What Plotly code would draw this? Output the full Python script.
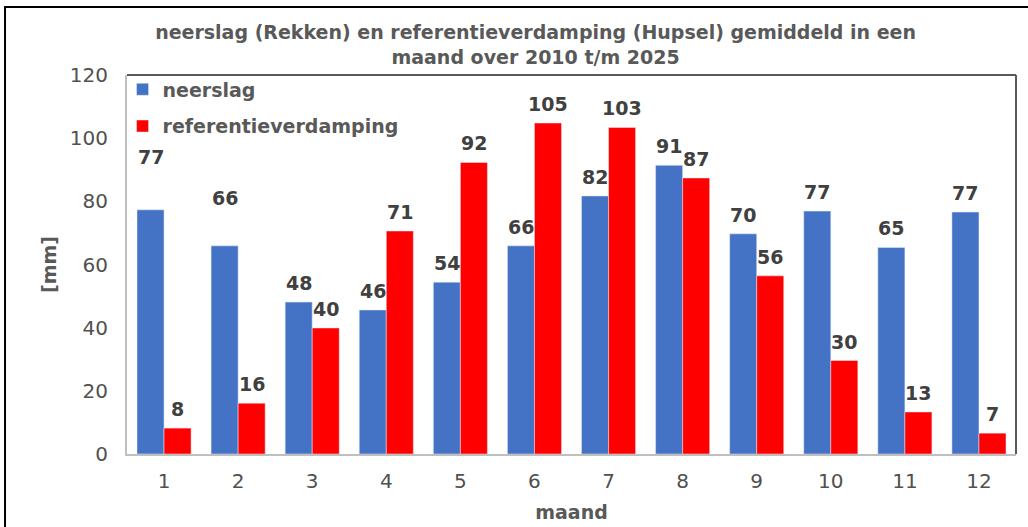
import plotly.graph_objects as go

months = list(range(1, 13))
neerslag = [77.3, 65.9, 48.1, 45.6, 54.4, 65.9, 81.7, 91.4, 69.7, 76.9, 65.4, 76.6]
verdamping = [8.2, 16.1, 39.9, 70.6, 92.3, 104.8, 103.4, 87.4, 56.4, 29.6, 13.3, 6.6]
# extra vertical offset (px) for labels that were moved up in the original
neerslag_label_lift = [34, 29, 0, 0, 0, 0, 0, 0, 0, 0, 0, 0]
verdamping_label_lift = [0] * 12

title_text = "neerslag (Rekken) en referentieverdamping (Hupsel) gemiddeld in een<br>maand over 2010 t/m 2025"

FONT = "DejaVu Sans"
GREY = "#595959"
DARK = "#404040"

fig = go.Figure()
fig.add_trace(go.Bar(x=months, y=neerslag, name="neerslag", marker_color="#4472C4",
                     legendgroup="a"))
fig.add_trace(go.Bar(x=months, y=verdamping, name="referentieverdamping", marker_color="#FF0000",
                     legendgroup="b"))

annotations = []
for series, lift, shift in ((neerslag, neerslag_label_lift, -13.5), (verdamping, verdamping_label_lift, 13.5)):
    for m, v, l in zip(months, series, lift):
        annotations.append(dict(x=m, y=v, xref="x", yref="y", text=f"{v:.0f}", showarrow=False,
                                xshift=shift, yshift=6 + l, yanchor="bottom",
                                font=dict(family=FONT, size=19, color=DARK, weight="bold")))

fig.update_layout(
    width=1028, height=527,
    margin=dict(l=127, r=12, t=75, b=73, autoexpand=False),
    paper_bgcolor="white", plot_bgcolor="white",
    barmode="group", bargap=0.27, bargroupgap=0,
    title=dict(text=title_text, x=0.521, xref="container", xanchor="center",
               y=0.926, yref="container", yanchor="top",
               font=dict(family=FONT, size=19, color=GREY, weight="bold")),
    legend=dict(x=-0.005, y=1.012, xanchor="left", yanchor="top", bgcolor="rgba(0,0,0,0)",
                font=dict(family=FONT, size=19, color=GREY, weight="bold"),
                tracegroupgap=9, itemwidth=30),
    xaxis=dict(range=[0.5, 12.5], tickmode="array", tickvals=months, ticktext=[str(m) for m in months],
               showgrid=False, showline=True, linecolor="#BFBFBF", linewidth=2, zeroline=False,
               ticks="", ticklabelstandoff=8, automargin=False,
               tickfont=dict(family=FONT, size=20, color="#505050"),
               title=dict(text="maand", standoff=14,
                          font=dict(family=FONT, size=19, color=GREY, weight="bold"))),
    yaxis=dict(range=[0, 120], dtick=20, showgrid=False, showline=True, linecolor="#BFBFBF",
               linewidth=2, zeroline=False, ticks="", ticklabelstandoff=13, automargin=False,
               tickfont=dict(family=FONT, size=20, color="#505050"),
               title=dict(text="[mm]", standoff=8,
                          font=dict(family=FONT, size=19, color=GREY, weight="bold"))),
    annotations=annotations,
    shapes=[
        dict(type="line", xref="x domain", yref="y domain", x0=0, x1=1, y0=1, y1=1,
             line=dict(color=GREY, width=2)),
        dict(type="line", xref="x domain", yref="y domain", x0=1, x1=1, y0=0, y1=1,
             line=dict(color=GREY, width=2)),
        dict(type="rect", xref="paper", yref="paper", x0=-0.1372, x1=1.05, y0=-0.3, y1=1.1794,
             line=dict(color="black", width=2), layer="below"),
    ],
)

fig.write_html("out.html", config={"displayModeBar": False},
               post_script="document.body.style.margin='0';")
